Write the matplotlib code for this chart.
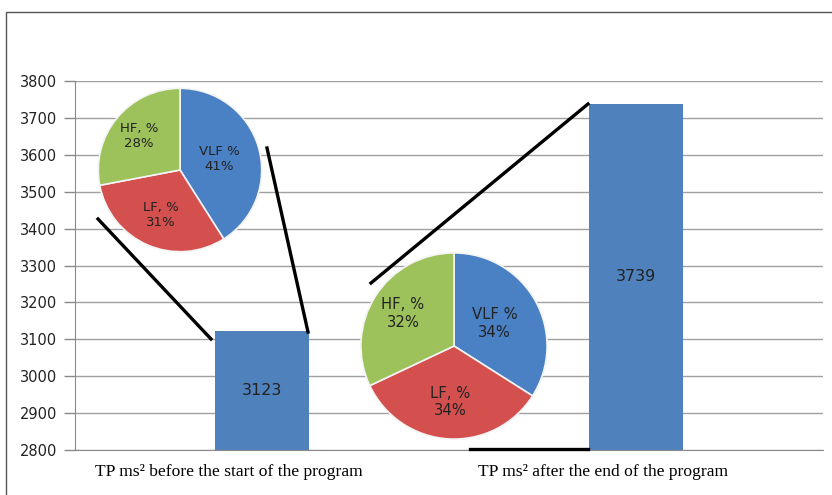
"""Bar chart of TP before/after the program with HRV-spectrum pies overlaid -> out.png"""

import matplotlib

matplotlib.use("Agg")
import matplotlib.pyplot as plt
import matplotlib.transforms as mtransforms
import numpy as np
from matplotlib.lines import Line2D

W, H = 832, 495

categories = ["TP ms\u00b2 before the start of the program",
              "TP ms\u00b2 after the end of the program"]
tp_values = [3123, 3739]
yticks = list(range(2800, 3801, 100))

pie_labels = ["VLF %", "LF, %", "HF, %"]
pie_before = [41, 31, 28]
pie_after = [34, 34, 32]
pie_colors = ["#4A80C4", "#D4504E", "#9DC25C"]


def fig_box(x, y, w, h):
    # pixel box (from top-left) -> figure fraction rect
    return [x / W, 1 - (y + h) / H, w / W, h / H]


def px(x, y):
    return x / W, 1 - y / H


fig = plt.figure(figsize=(W / 100, H / 100), dpi=100)

ax = fig.add_axes(fig_box(75, 81, 748, 369))
ax.bar(range(len(tp_values)), tp_values, width=0.25, color="#4F81BD", zorder=2)
for i, v in enumerate(tp_values):
    ax.text(i, (v + 2800) / 2, str(v), ha="center", va="center",
            fontsize=11.5, color="#222222", zorder=3)
ax.set_ylim(2800, 3800)
ax.set_xlim(-0.5, 1.5)
ax.set_yticks(yticks)
ax.yaxis.grid(True, color="#a0a0a0", lw=1)
ax.set_axisbelow(True)
ax.tick_params(axis="y", length=8, width=1, color="#8a8a8a", pad=5,
               labelsize=10.5, labelcolor="#222222")
ax.set_xticks(range(len(categories)))
ax.set_xticklabels(categories, fontfamily="Liberation Serif", fontsize=12.6)
ax.tick_params(axis="x", length=0, pad=10)
shift = mtransforms.ScaledTranslation(-33 / 100, 0, fig.dpi_scale_trans)
for lab in ax.get_xticklabels():
    lab.set_transform(lab.get_transform() + shift)
for s in ["top", "right"]:
    ax.spines[s].set_visible(False)
ax.spines["left"].set_color("#8a8a8a")
ax.spines["bottom"].set_color("#8a8a8a")


def draw_pie(box, values, fs):
    pax = fig.add_axes(fig_box(*box))
    pax.pie(values, colors=pie_colors, startangle=90, counterclock=False,
            wedgeprops=dict(edgecolor="#f4f4f4", linewidth=1.2))
    pax.set_xlim(-1.01, 1.01)
    pax.set_ylim(-1.01, 1.01)
    # labels inside each wedge
    start = 90.0
    for lab, v, rf in zip(pie_labels, values, [0.5, 0.6, 0.65]):
        mid = np.deg2rad(start - v * 3.6 / 2)
        pax.text(rf * np.cos(mid), rf * np.sin(mid), f"{lab}\n{v}%",
                 ha="center", va="center", fontsize=fs, color="#222222",
                 linespacing=1.2)
        start -= v * 3.6
    pax.set_axis_off()


draw_pie((97.5, 87.5, 165, 165), pie_before, 9.5)
draw_pie((360, 252, 188, 188), pie_after, 10.6)

# pointer lines linking pies and bars
for (x0, y0), (x1, y1) in [((98, 219), (211, 339)), ((267, 148), (308, 332)),
                           ((371, 283), (588, 104)), ((470, 449), (588, 449))]:
    fig.add_artist(Line2D(*zip(px(x0, y0), px(x1, y1)), color="black", lw=2.4,
                          transform=fig.transFigure))

# outer frame
fig.add_artist(Line2D(*zip(px(6, H), px(6, 12), px(W, 12)), color="#555555",
                      lw=1, transform=fig.transFigure))

fig.savefig("out.png", dpi=100)
